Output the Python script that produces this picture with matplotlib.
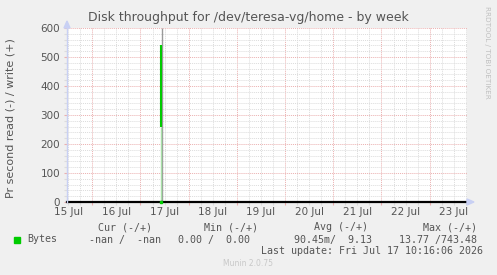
import numpy as np
import matplotlib.pyplot as plt
from matplotlib.ticker import MultipleLocator, FixedLocator, NullFormatter

# time axis in hours since 15 Jul 00:00
x_start, x_end = 11.4, 210.6
day_labels = ['15 Jul', '16 Jul', '17 Jul', '18 Jul', '19 Jul',
              '20 Jul', '21 Jul', '22 Jul', '23 Jul']
day_label_hours = [12 + 24 * i for i in range(len(day_labels))]
midnight_hours = [24 * i for i in range(1, 9)]

# write series (Bytes) around the single burst
burst_hour = 58.0
burst_low = 260
burst_high = 541
fade_low = 0
rule_hour = 58.6
rule_top = 600

y_ticks = [0, 100, 200, 300, 400, 500, 600]

legend_heads = ['Cur (-/+)', 'Min (-/+)', 'Avg (-/+)', 'Max (-/+)']
legend_vals = ['-nan /  -nan', '0.00 /  0.00', '90.45m/  9.13', '13.77 /743.48']
series_name = 'Bytes'
last_update = 'Last update: Fri Jul 17 10:16:06 2026'

BG = '#f0f0f0'
FONT = '#555555'
MGRID = '#ebb0b0'
GRID = '#dcdcdc'
AXIS = '#c8d0f4'
GREEN = '#00cc00'

W, H = 497, 275
fig = plt.figure(figsize=(W / 100, H / 100), dpi=100, facecolor=BG)

L, R, T, B = 67, 467, 28, 202
ax = fig.add_axes([L / W, 1 - B / H, (R - L) / W, (B - T) / H])
ax.set_facecolor('white')
ax.set_xlim(x_start, x_end)
ax.set_ylim(0, 600)
for s in ax.spines.values():
    s.set_visible(False)

# grid
ax.xaxis.set_minor_locator(MultipleLocator(6))
ax.xaxis.set_major_locator(FixedLocator(midnight_hours))
ax.yaxis.set_major_locator(FixedLocator(y_ticks))
ax.yaxis.set_minor_locator(MultipleLocator(20))
ax.grid(which='minor', color=GRID, linestyle=(0, (1, 1)), linewidth=0.7)
ax.grid(which='major', color=MGRID, linestyle=(0, (1, 1)), linewidth=0.7)
ax.set_axisbelow(True)
ax.tick_params(which='major', colors=MGRID, length=2, width=0.8, direction='out')
ax.tick_params(which='minor', colors=GRID, length=2, width=0.8, direction='out')
ax.xaxis.set_major_formatter(NullFormatter())
ax.set_yticklabels([str(v) for v in y_ticks])
ax.tick_params(axis='y', which='major', labelcolor=FONT, labelsize=7.5, pad=3)

for h, lab in zip(day_label_hours, day_labels):
    ax.text(h, -0.03, lab, transform=ax.get_xaxis_transform(), ha='center',
            va='top', fontsize=7.5, color=FONT)

# data
ax.vlines([rule_hour], 0, rule_top, color='#999999', linewidth=1.0, zorder=3)
ax.vlines([burst_hour], fade_low, burst_low, color='#a8e0a8', linewidth=1.0, zorder=4)
ax.vlines([burst_hour], burst_low, burst_high, color=GREEN, linewidth=1.5, zorder=4)
ax.plot([burst_hour], [fade_low], 's', color=GREEN, markersize=2, zorder=6, clip_on=False)

# axes lines and arrows
ax.axhline(0, color='black', linewidth=1.6, zorder=5, clip_on=False)
ax.plot([x_start, x_start], [0, 600], color=AXIS, linewidth=1.0, zorder=5, clip_on=False)
fig.patches.append(plt.Polygon([[R / W, 1 - (B - 3) / H], [R / W, 1 - (B + 3) / H],
                                [(R + 7) / W, 1 - B / H]], closed=True,
                               transform=fig.transFigure, color=AXIS))
fig.patches.append(plt.Polygon([[(L - 3) / W, 1 - T / H], [(L + 3) / W, 1 - T / H],
                                [L / W, 1 - (T - 7) / H]], closed=True,
                               transform=fig.transFigure, color=AXIS))

# title and labels
fig.text(248 / W, 1 - 18 / H, 'Disk throughput for /dev/teresa-vg/home - by week',
         ha='center', va='center', fontsize=9, color=FONT)
fig.text(11 / W, 1 - 118 / H, 'Pr second read (-) / write (+)', rotation=90,
         ha='center', va='center', fontsize=8, color=FONT)
fig.text(487 / W, 1 - 52 / H, 'RRDTOOL / TOBI OETIKER', rotation=270,
         ha='center', va='center', fontsize=5.2, color='#c0c0c0')

mono = dict(family='DejaVu Sans Mono', fontsize=7.2, color=FONT)
head_right = [152, 258, 368, 477]
for x, t in zip(head_right, legend_heads):
    fig.text(x / W, 1 - 227.5 / H, t, ha='right', va='center', **mono)
val_right = [161, 250, 372, 477]
for x, t in zip(val_right, legend_vals):
    fig.text(x / W, 1 - 239.5 / H, t, ha='right', va='center', **mono)
fig.patches.append(plt.Rectangle((13.5 / W, 1 - 242.5 / H), 6 / W, 6 / H,
                                 transform=fig.transFigure, color=GREEN))
fig.text(27 / W, 1 - 239.5 / H, series_name, ha='left', va='center', **mono)
fig.text(483 / W, 1 - 251 / H, last_update, ha='right', va='center', **mono)
fig.text(248 / W, 1 - 264 / H, 'Munin 2.0.75', ha='center', va='center',
         fontsize=5.5, color='#c8c8c8')

fig.savefig('out.png', dpi=100, facecolor=BG)
